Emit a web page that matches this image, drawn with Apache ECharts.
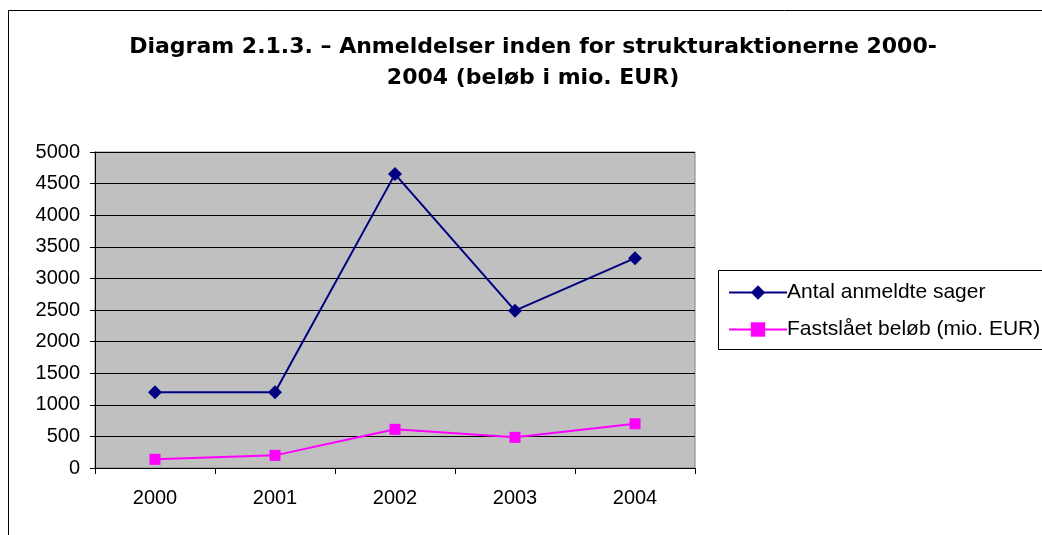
<!DOCTYPE html>
<html>
<head>
<meta charset="utf-8">
<script src="https://cdn.jsdelivr.net/npm/echarts@6/dist/echarts.min.js"></script>
<style>
html,body{margin:0;padding:0;background:#fff;}
#main{width:1042px;height:535px;}
</style>
</head>
<body>
<div id="main"></div>
<script>
// data
var years = ['2000', '2001', '2002', '2003', '2004'];
var antalSager = [1200, 1200, 4650, 2490, 3320];
var fastslaaet = [137, 200, 612, 485, 700];
var yTicks = [0, 500, 1000, 1500, 2000, 2500, 3000, 3500, 4000, 4500, 5000];

var font = 'Liberation Sans, Arial, sans-serif';
var wideFont = 'DejaVu Sans, Liberation Sans, sans-serif';

var chart = echarts.init(document.getElementById('main'));

var option = {
    backgroundColor: '#fff',
    animation: false,
    title: {
        text: 'Diagram 2.1.3. – Anmeldelser inden for strukturaktionerne 2000-\n2004 (beløb i mio. EUR)',
        left: 528,
        top: 27,
        textAlign: 'center',
        textStyle: {
            fontFamily: wideFont,
            fontSize: 22,
            fontWeight: 'bold',
            color: '#000',
            lineHeight: 31
        }
    },
    graphic: [
        // outer frame
        {type: 'rect', shape: {x: 8.5, y: 10.5, width: 1040, height: 530}, style: {fill: 'none', stroke: '#000', lineWidth: 1}, z: -1},
        // legend box
        {type: 'rect', shape: {x: 718.5, y: 270.5, width: 330, height: 79}, style: {fill: '#fff', stroke: '#000', lineWidth: 1}, z: 0}
    ],
    legend: {
        orient: 'vertical',
        left: 723,
        top: 275,
        itemWidth: 58,
        itemHeight: 18,
        itemGap: 12,
        z: 5,
        lineStyle: {width: 2},
        data: ['Antal anmeldte sager', 'Fastslået beløb (mio. EUR)'],
        textStyle: {fontFamily: font, fontSize: 21, lineHeight: 25, color: '#000', padding: [0, 0, 0, -5]}
    },
    grid: {
        left: 95,
        top: 152,
        width: 600,
        height: 316,
        show: true,
        backgroundColor: '#C0C0C0',
        borderColor: '#808080',
        borderWidth: 1
    },
    xAxis: {
        type: 'category',
        data: years,
        boundaryGap: true,
        axisLine: {lineStyle: {color: '#000', width: 1}},
        axisTick: {show: true, alignWithLabel: false, length: 6, lineStyle: {color: '#000'}},
        axisLabel: {fontFamily: font, fontSize: 20, color: '#000', margin: 20}
    },
    yAxis: {
        type: 'value',
        min: yTicks[0],
        max: yTicks[yTicks.length - 1],
        interval: 500,
        axisLine: {show: true, lineStyle: {color: '#000', width: 1}},
        axisTick: {show: true, length: 5, inside: false, lineStyle: {color: '#000'}},
        splitLine: {show: true, lineStyle: {color: '#000', width: 1}},
        axisLabel: {fontFamily: font, fontSize: 20, color: '#000', margin: 15, formatter: function(v){ return String(v); }}
    },
    series: [
        {
            name: 'Antal anmeldte sager',
            type: 'line',
            data: antalSager,
            symbol: 'diamond',
            symbolSize: 14,
            color: '#000080',
            lineStyle: {color: '#000080', width: 2},
            itemStyle: {color: '#000080'}
        },
        {
            name: 'Fastslået beløb (mio. EUR)',
            type: 'line',
            data: fastslaaet,
            symbol: 'rect',
            symbolSize: 11,
            color: '#FF00FF',
            lineStyle: {color: '#FF00FF', width: 2},
            itemStyle: {color: '#FF00FF'}
        }
    ]
};

chart.setOption(option);
</script>
</body>
</html>
